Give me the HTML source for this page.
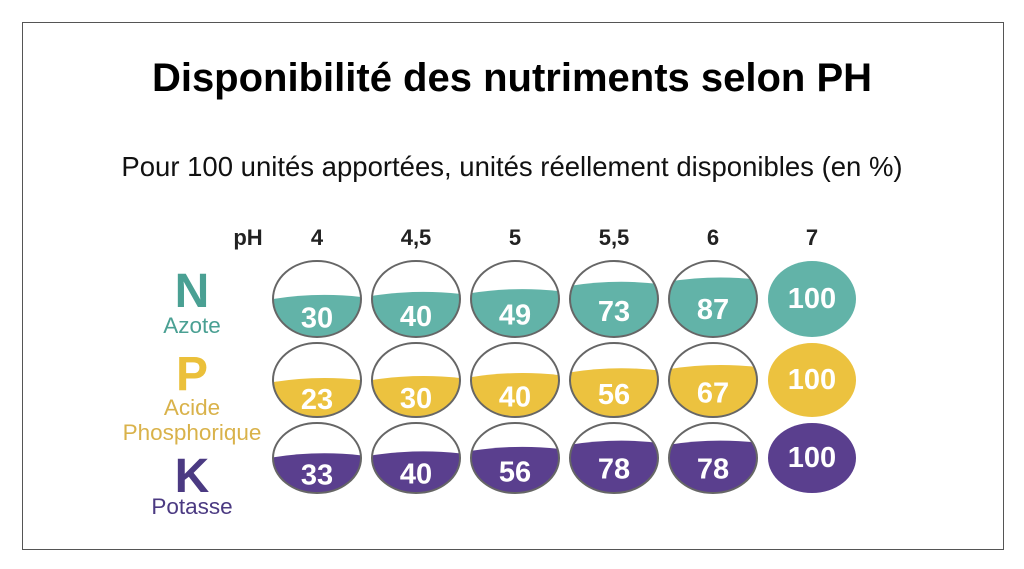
<!DOCTYPE html>
<html><head><meta charset="utf-8"><style>
body{margin:0;width:1024px;height:569px;background:#fff;font-family:"Liberation Sans",sans-serif;overflow:hidden}
#frame{position:absolute;left:22px;top:22px;width:980px;height:526px;border:1px solid #555}
#title{position:absolute;left:0;width:1024px;top:56px;text-align:center;font-size:40px;font-weight:bold;color:#000}
#sub{position:absolute;left:0;width:1024px;top:151px;text-align:center;font-size:27.5px;color:#111}
svg{position:absolute;left:0;top:0}
</style></head><body>
<div id="frame"></div>
<div id="title">Disponibilité des nutriments selon PH</div>
<div id="sub">Pour 100 unités apportées, unités réellement disponibles (en %)</div>
<svg id="chart" width="1024" height="569"></svg>
<script>
const phLabels=["4","4,5","5","5,5","6","7"];
const nValues=[30,40,49,73,87,100];
const pValues=[23,30,40,56,67,100];
const kValues=[33,40,56,78,78,100];
const NS="http://www.w3.org/2000/svg";
const svg=document.getElementById('chart');
function el(t,a,p){const e=document.createElementNS(NS,t);for(const k in a)e.setAttribute(k,a[k]);(p||svg).appendChild(e);return e;}
const colX=i=>317+i*99;
const rows=[
 {vals:nValues,cy:299,ry:38,color:"#62b3a8",name:"n",letter:"N",lc:"#4aa093",ly:307,sub:["Azote"],sy:333,sc:"#4aa093"},
 {vals:pValues,cy:380,ry:37,color:"#ecc23f",name:"p",letter:"P",lc:"#ebc03a",ly:390,sub:["Acide","Phosphorique"],sy:415,sc:"#d9b24a"},
 {vals:kValues,cy:458,ry:35,color:"#5a3f8e",name:"k",letter:"K",lc:"#4b3a82",ly:492,sub:["Potasse"],sy:514,sc:"#4b3a82"}
];
const fillFrac=v=>v>=100?1:0.42+0.4*v/100;
let t=el('text',{x:248,y:245,'font-size':22,'font-weight':'bold',fill:'#222','text-anchor':'middle','font-family':'Liberation Sans'});t.textContent='pH';


phLabels.forEach((l,i)=>{const tx=el('text',{x:colX(i),y:245,'font-size':22,'font-weight':'bold',fill:'#222','text-anchor':'middle','font-family':'Liberation Sans'});tx.textContent=l;
 
 });
rows.forEach((r,ri)=>{
 const L=el('text',{x:192,y:r.ly,'font-size':48,'font-weight':'bold',fill:r.lc,'text-anchor':'middle','font-family':'Liberation Sans'});L.textContent=r.letter;
 
 
 r.sub.forEach((s,si)=>{const S=el('text',{x:192,y:r.sy+si*25,'font-size':22.5,fill:r.sc,'text-anchor':'middle','font-family':'Liberation Sans'});S.textContent=s;
  
  });
 r.vals.forEach((v,i)=>{
  const cx=colX(i),rx=44,cy=r.cy,ry=r.ry;
  const g=el('g',{});
  
  
  const id='c'+ri+'_'+i;
  const cp=el('clipPath',{id:id},g);el('ellipse',{cx,cy,rx,ry},cp);
  el('ellipse',{cx,cy,rx,ry,fill:'#fff'},g);
  const top=cy+ry-2*ry*fillFrac(v);
  el('path',{d:`M${cx-rx} ${top+3} Q${cx} ${top-4} ${cx+rx} ${top+1} L${cx+rx} ${cy+ry+2} L${cx-rx} ${cy+ry+2}Z`,fill:r.color,'clip-path':`url(#${id})`},g);
  if(v<100)el('ellipse',{cx,cy,rx,ry,fill:'none',stroke:'#666','stroke-width':2},g);
  const ty=v>=100?cy+9:(top+cy+ry)/2+11;
  const tx=el('text',{x:cx,y:ty,'font-size':29,'font-weight':'bold',fill:'#fff','text-anchor':'middle','font-family':'Liberation Sans'},g);tx.textContent=v;
 });
});
</script>
</body></html>
